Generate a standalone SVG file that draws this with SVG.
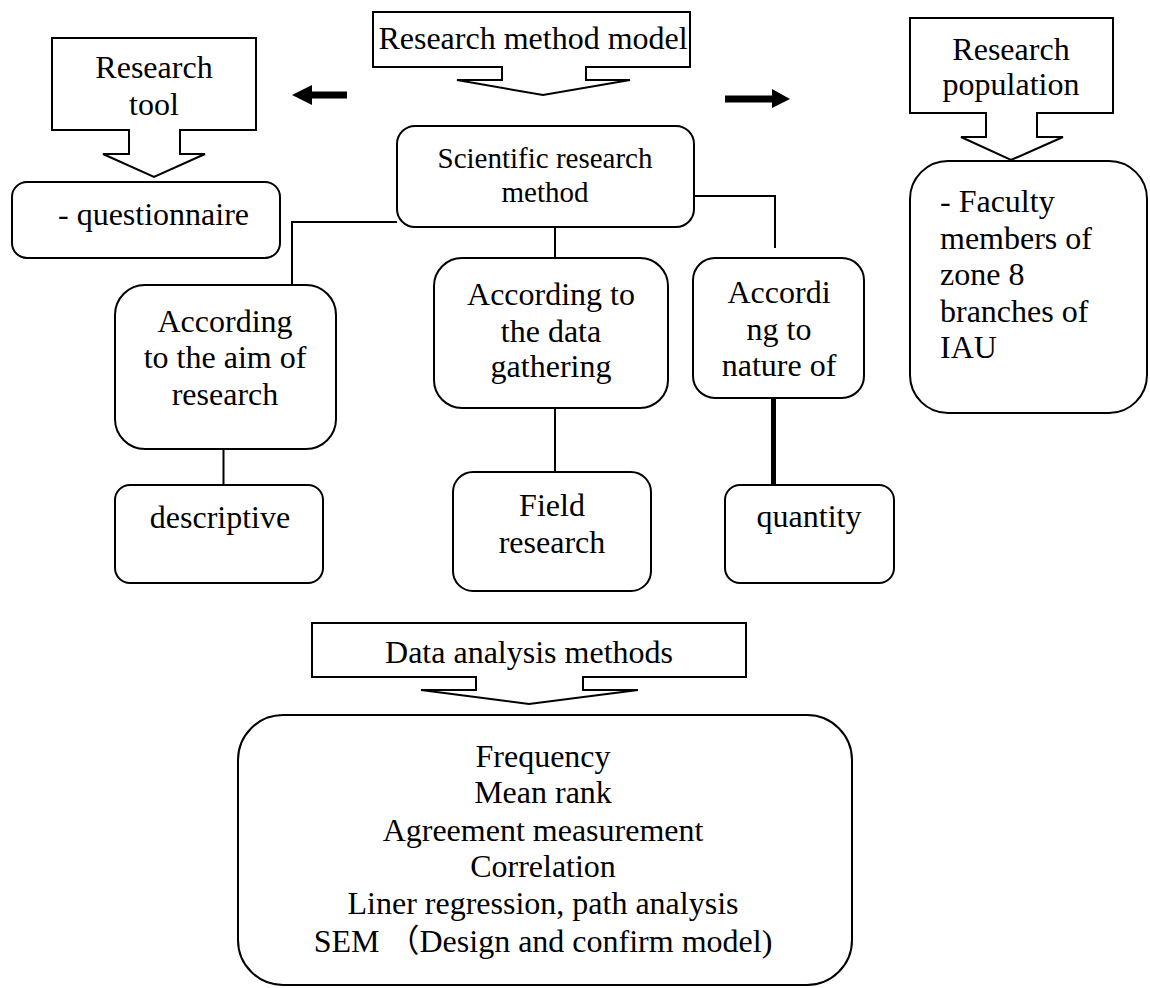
<svg xmlns="http://www.w3.org/2000/svg" width="1150" height="988" viewBox="0 0 1150 988">
  <style>
    .box { fill: #ffffff; stroke: #000000; stroke-width: 2; }
    .callout { fill: #ffffff; stroke: #000000; stroke-width: 2; stroke-linejoin: miter; }
    .link { fill: none; stroke: #000000; stroke-width: 2; }
    .thick { fill: none; stroke: #000000; stroke-width: 5; }
    .arrow { fill: #000000; stroke: none; }
    text { font-family: "Liberation Serif", "Times New Roman", "Noto Sans CJK SC", serif; font-size: 32px; fill: #000000; }
    .c { text-anchor: middle; }
    .small { font-size: 29px; }
  </style>
  <rect width="1150" height="988" fill="#ffffff"/>

  <!-- connectors -->
  <g id="connectors">
    <polyline class="link" points="397,222 292,222 292,286"/>
    <line class="link" x1="555" y1="227" x2="555" y2="275"/>
    <polyline class="link" points="694,196 775,196 775,248"/>
    <line class="link" x1="223.5" y1="449" x2="223.5" y2="485"/>
    <line class="link" x1="555" y1="408" x2="555" y2="472"/>
    <line class="thick" x1="773.5" y1="398" x2="773.5" y2="485"/>
    <polygon class="arrow" points="292,95 312,85 312,91.5 347,91.5 347,98.5 312,98.5 312,105"/>
    <polygon class="arrow" points="790,99 772,89 772,95.5 725,95.5 725,102.5 772,102.5 772,108"/>
  </g>

  <!-- research method model (header callout) -->
  <g id="research-method-model">
    <path class="callout" d="M373,12 H690 V67 H586 V80 H630 L543,95 L457,80 H502 V67 H373 Z"/>
    <text class="c" x="533" y="49">Research method model</text>
  </g>

  <!-- research tool callout -->
  <g id="research-tool">
    <path class="callout" d="M52,38 H256 V130 H180 V154 H205 L154,177 L103,154 H129 V130 H52 Z"/>
    <text class="c" x="154" y="78">Research</text>
    <text class="c" x="154" y="115">tool</text>
  </g>

  <g id="questionnaire">
    <rect class="box" x="12" y="182" width="268" height="76" rx="15"/>
    <text x="58" y="225">- questionnaire</text>
  </g>

  <!-- research population callout -->
  <g id="research-population">
    <path class="callout" d="M910,18 H1113 V113 H1037 V137 H1063 L1011,160 L961,137 H986 V113 H910 Z"/>
    <text class="c" x="1011" y="60">Research</text>
    <text class="c" x="1011" y="95">population</text>
  </g>

  <g id="faculty">
    <rect class="box" x="910" y="161" width="237" height="252" rx="38"/>
    <text x="940" y="212">- Faculty</text>
    <text x="940" y="249">members of</text>
    <text x="940" y="285">zone 8</text>
    <text x="940" y="322">branches of</text>
    <text x="940" y="358">IAU</text>
  </g>

  <g id="scientific-method">
    <rect class="box" x="397" y="126" width="297" height="101" rx="18"/>
    <text class="c small" x="545" y="168">Scientific research</text>
    <text class="c small" x="545" y="202">method</text>
  </g>

  <g id="aim-of-research">
    <rect class="box" x="115" y="285" width="221" height="164" rx="30"/>
    <text class="c" x="225" y="332">According</text>
    <text class="c" x="225" y="368">to the aim of</text>
    <text class="c" x="225" y="405">research</text>
  </g>

  <g id="data-gathering">
    <rect class="box" x="434" y="258" width="234" height="150" rx="28"/>
    <text class="c" x="551" y="305">According to</text>
    <text class="c" x="551" y="342">the data</text>
    <text class="c" x="551" y="377">gathering</text>
  </g>

  <g id="nature-of">
    <rect class="box" x="693" y="258" width="171" height="140" rx="22"/>
    <text class="c" x="779" y="303">Accordi</text>
    <text class="c" x="779" y="340">ng to</text>
    <text class="c" x="779" y="376">nature of</text>
  </g>

  <g id="descriptive">
    <rect class="box" x="115" y="485" width="208" height="98" rx="15"/>
    <text class="c" x="220" y="528">descriptive</text>
  </g>

  <g id="field-research">
    <rect class="box" x="453" y="472" width="198" height="119" rx="20"/>
    <text class="c" x="552" y="516">Field</text>
    <text class="c" x="552" y="553">research</text>
  </g>

  <g id="quantity">
    <rect class="box" x="725" y="485" width="169" height="98" rx="15"/>
    <text class="c" x="809" y="527">quantity</text>
  </g>

  <!-- data analysis methods callout -->
  <g id="data-analysis-methods">
    <path class="callout" d="M312,623 H746 V677 H583 V690 H638 L529,704 L421,690 H476 V677 H312 Z"/>
    <text class="c" x="529" y="663">Data analysis methods</text>
  </g>

  <g id="analysis-list">
    <rect class="box" x="238" y="715" width="614" height="270" rx="45"/>
    <text class="c" x="543" y="767">Frequency</text>
    <text class="c" x="543" y="803">Mean rank</text>
    <text class="c" x="543" y="841">Agreement measurement</text>
    <text class="c" x="543" y="877">Correlation</text>
    <text class="c" x="543" y="914">Liner regression, path analysis</text>
    <text class="c" x="543" y="952">SEM （Design and confirm model)</text>
  </g>
</svg>
